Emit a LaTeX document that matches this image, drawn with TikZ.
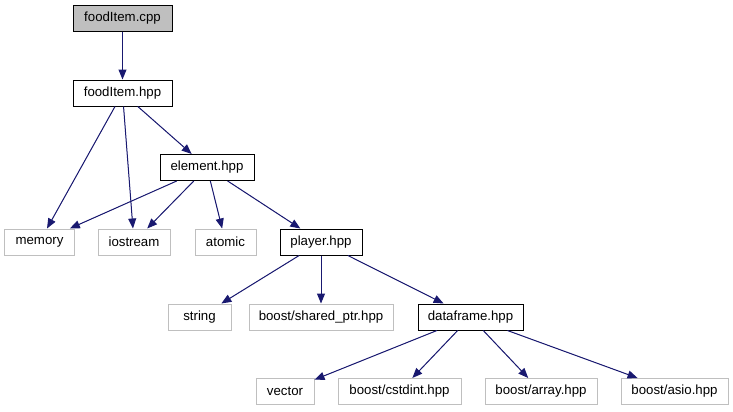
\documentclass[tikz,border=0pt]{standalone}
\usepackage{fontspec}
\setmainfont{Liberation Sans}
\usepackage{tikz}
\usetikzlibrary{arrows.meta}
\definecolor{edgeblue}{RGB}{25,25,112}
\definecolor{sysgrey}{RGB}{191,191,191}

\begin{document}
\begin{tikzpicture}[
  x=1bp,y=-1bp,
  file/.style={draw=black,line width=1bp,minimum height=26bp,inner sep=0pt,
               font=\fontsize{13.3}{15}\selectfont,fill=white},
  root/.style={file,fill=sysgrey},
  sys/.style={file,draw=sysgrey},
  inc/.style={-{Triangle[length=10bp,width=8bp]},draw=edgeblue,fill=edgeblue,line width=1bp}
]
\useasboundingbox (0,0) rectangle (733,411);

% project files
\node[root,minimum width=99bp] (cpp) at (122.5,18) {foodItem.cpp};
\node[file,minimum width=99bp] (hpp) at (122.5,93) {foodItem.hpp};
\node[file,minimum width=94bp] (element) at (207,167.5) {element.hpp};
\node[file,minimum width=82bp] (player) at (321,242) {player.hpp};
\node[file,minimum width=105bp] (dataframe) at (470.5,317) {dataframe.hpp};

% system headers
\node[sys,minimum width=69bp] (memory) at (39.5,242) {memory};
\node[sys,minimum width=72bp] (iostream) at (134,242) {iostream};
\node[sys,minimum width=61bp] (atomic) at (225.5,242) {atomic};
\node[sys,minimum width=63bp] (string) at (199.5,317) {string};
\node[sys,minimum width=144bp] (sharedptr) at (321,317) {boost/shared\_ptr.hpp};
\node[sys,minimum width=58bp] (vector) at (285,391.5) {vector};
\node[sys,minimum width=123bp] (cstdint) at (399.5,391.5) {boost/cstdint.hpp};
\node[sys,minimum width=112bp] (array) at (541,391.5) {boost/array.hpp};
\node[sys,minimum width=107bp] (asio) at (674.5,391.5) {boost/asio.hpp};

\draw[inc] (cpp) -- (hpp);
\draw[inc] (hpp) -- (memory);
\draw[inc] (hpp) -- (iostream);
\draw[inc] (hpp) -- (element);
\draw[inc] (element) -- (memory);
\draw[inc] (element) -- (iostream);
\draw[inc] (element) -- (atomic);
\draw[inc] (element) -- (player);
\draw[inc] (player) -- (string);
\draw[inc] (player) -- (sharedptr);
\draw[inc] (player) -- (dataframe);
\draw[inc] (dataframe) -- (vector);
\draw[inc] (dataframe) -- (cstdint);
\draw[inc] (dataframe) -- (array);
\draw[inc] (dataframe) -- (asio);
\end{tikzpicture}
\end{document}
